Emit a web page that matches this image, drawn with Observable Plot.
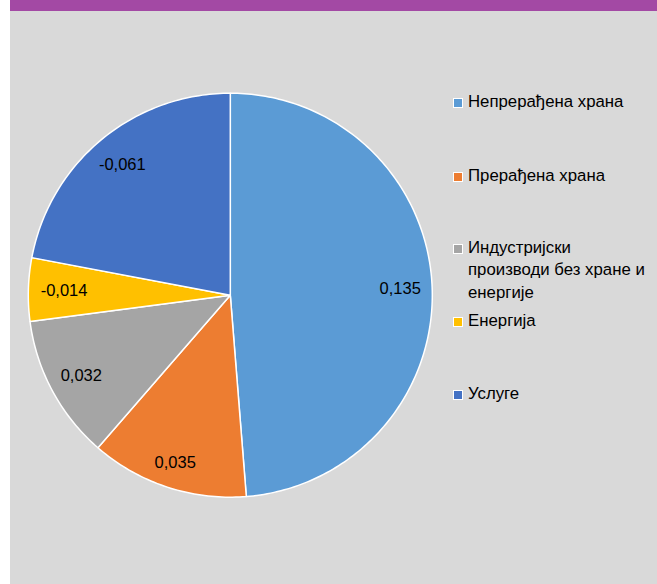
<!DOCTYPE html>
<html>
<head>
<meta charset="utf-8">
<script src="https://cdn.jsdelivr.net/npm/d3@7"></script>
<script src="https://cdn.jsdelivr.net/npm/@observablehq/plot@0.6"></script>
<style>
  html, body { margin: 0; padding: 0; background: #ffffff; }
  body { width: 657px; height: 584px; position: relative; overflow: hidden; font-family: "Liberation Sans", Arial, sans-serif; }
  #panel { position: absolute; left: 10px; top: 0; width: 647px; height: 584px; background: #D9D9D9; border-top: 11px solid #A349A4; box-sizing: border-box; }
  #chart { position: absolute; left: 0; top: 0; }
  #chart svg { background: transparent; overflow: visible; }
  .lg { position: absolute; left: 453px; font-size: 16.8px; line-height: 22.5px; color: #000; white-space: nowrap; }
  .lg .sw { position: absolute; left: 0; top: 7px; width: 8px; height: 8px; border: 1px solid #ffffff; }
  .lg .tx { position: absolute; left: 15px; top: 0; }
</style>
</head>
<body>
<div id="panel"><div id="chart"></div></div>
<div id="legend"></div>
<script>
// ---- data ----
const categories = ["Непрерађена храна", "Прерађена храна", "Индустријски производи без хране и енергије", "Енергија", "Услуге"];
const legendLines = [["Непрерађена храна"], ["Прерађена храна"], ["Индустријски", "производи без хране и", "енергије"], ["Енергија"], ["Услуге"]];
const values = [0.135, 0.035, 0.032, -0.014, -0.061];
const valueLabels = ["0,135", "0,035", "0,032", "-0,014", "-0,061"];
const colors = ["#5B9BD5", "#ED7D31", "#A5A5A5", "#FFC000", "#4472C4"];

// ---- geometry from data ----
const pie = d3.pie().sort(null).value(d => Math.abs(d))(values);
const R = 202, cx = 219.8, cy = 283.7;
const slicePts = [];
pie.forEach((p, i) => {
  const cat = categories[i];
  slicePts.push({cat, x: 0, y: 0});
  const n = Math.max(2, Math.ceil((p.endAngle - p.startAngle) / (Math.PI / 180)));
  for (let k = 0; k <= n; k++) {
    const a = p.startAngle + (p.endAngle - p.startAngle) * k / n;
    slicePts.push({cat, x: Math.sin(a), y: Math.cos(a)});
  }
});
const labelPts = pie.map((p, i) => {
  const a = (p.startAngle + p.endAngle) / 2;
  const w = valueLabels[i].length * 7.5, h = 14;
  const off = 13 + Math.abs(Math.sin(a)) * w / 2 + Math.abs(Math.cos(a)) * h / 2;
  const r = (R - off) / R;
  return {label: valueLabels[i], x: r * Math.sin(a), y: r * Math.cos(a)};
});

const chart = Plot.plot({
  width: 647,
  height: 573,
  margin: 0,
  style: {background: "transparent", fontFamily: "Liberation Sans, Arial, sans-serif"},
  x: {domain: [-1, 1], range: [cx - R, cx + R], axis: null},
  y: {domain: [-1, 1], range: [cy + R, cy - R], axis: null},
  color: {domain: categories, range: colors},
  marks: [
    Plot.line(slicePts, {x: "x", y: "y", z: "cat", fill: "cat", stroke: "#ffffff", strokeWidth: 1.5, curve: "linear-closed"}),
    Plot.text(labelPts, {x: "x", y: "y", text: "label", fill: "#000000", fontSize: 16.5})
  ]
});
document.getElementById("chart").appendChild(chart);

// ---- legend ----
const legendTops = [90.75, 164.5, 236.75, 309.5, 382.75];
const lg = document.getElementById("legend");
categories.forEach((c, i) => {
  const item = document.createElement("div");
  item.className = "lg";
  item.style.top = legendTops[i] + "px";
  const sw = document.createElement("div");
  sw.className = "sw";
  sw.style.background = colors[i];
  const tx = document.createElement("div");
  tx.className = "tx";
  tx.innerHTML = legendLines[i].join("<br>");
  item.appendChild(sw);
  item.appendChild(tx);
  lg.appendChild(item);
});
</script>
</body>
</html>
